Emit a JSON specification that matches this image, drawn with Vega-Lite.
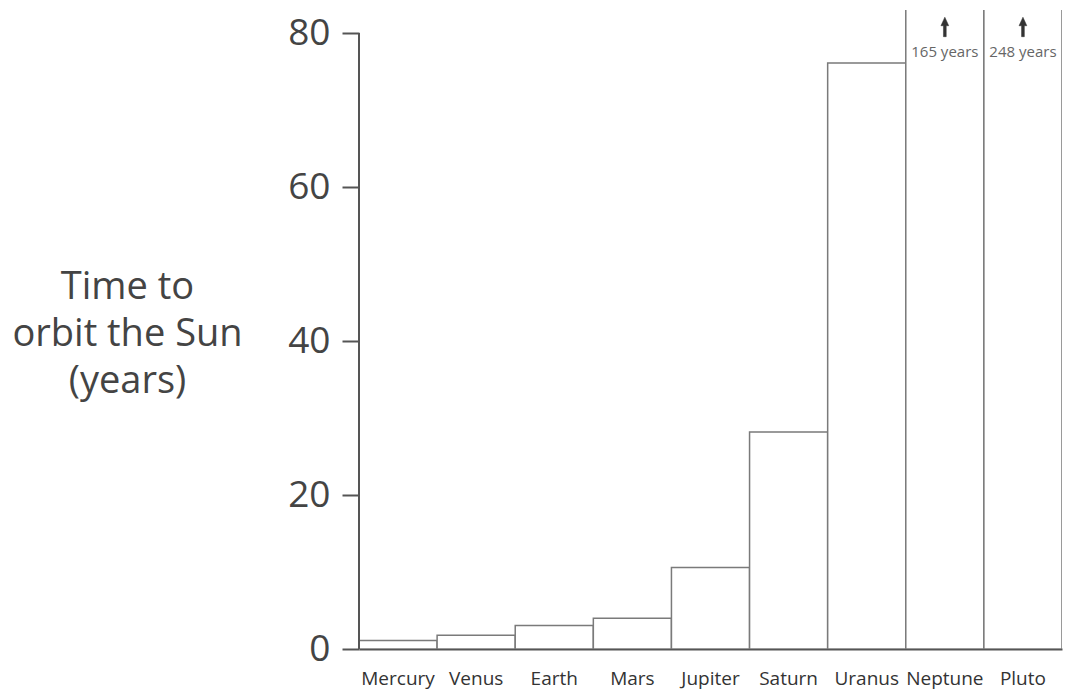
{
  "$schema": "https://vega.github.io/schema/vega-lite/v6.json",
  "autosize": {"type": "none"},
  "width": 703,
  "height": 639,
  "padding": {"left": 359, "top": 10, "right": 23, "bottom": 40},
  "background": "white",
  "config": {"view": {"stroke": null}, "font": "Open Sans"},
  "data": {
    "values": [
      {"planet": "Mercury", "years": 1.1},
      {"planet": "Venus", "years": 1.8},
      {"planet": "Earth", "years": 3.05},
      {"planet": "Mars", "years": 4.0},
      {"planet": "Jupiter", "years": 10.6},
      {"planet": "Saturn", "years": 28.2},
      {"planet": "Uranus", "years": 76.1},
      {"planet": "Neptune", "years": 165, "note": "165 years"},
      {"planet": "Pluto", "years": 248, "note": "248 years"}
    ]
  },
  "encoding": {
    "x": {
      "field": "planet",
      "type": "nominal",
      "sort": null,
      "scale": {"paddingInner": 0, "paddingOuter": 0},
      "axis": {
        "title": null,
        "ticks": false,
        "labelAngle": 0,
        "labelFontSize": 19,
        "labelColor": "#333",
        "labelPadding": 20,
        "domainColor": "#555",
        "domainWidth": 2
      }
    }
  },
  "layer": [
    {
      "mark": {"type": "bar", "fill": "white", "stroke": "#7a7a7a", "strokeWidth": 1.5, "clip": true},
      "encoding": {
        "y": {
          "field": "years",
          "type": "quantitative",
          "scale": {"domain": [0, 83], "nice": false},
          "axis": {
            "values": [0, 20, 40, 60, 80],
            "domain": false,
            "grid": false,
            "tickSize": 17,
            "tickColor": "#555",
            "tickWidth": 2,
            "labelFontSize": 37,
            "labelColor": "#444",
            "labelPadding": 12,
            "title": ["Time to", "orbit the Sun", "(years)"],
            "titleAngle": 0,
            "titleAlign": "center",
            "titleBaseline": "top",
            "titleX": -232,
            "titleY": 258,
            "titleFontSize": 38,
            "titleFontWeight": "normal",
            "titleColor": "#444",
            "titleLineHeight": 47
          }
        }
      }
    },
    {
      "mark": {"type": "rule", "stroke": "#555", "strokeWidth": 2},
      "encoding": {
        "x": {"datum": "Mercury", "bandPosition": 0},
        "y": {"datum": 0},
        "y2": {"datum": 80}
      }
    },
    {
      "transform": [{"filter": "datum.note"}],
      "mark": {"type": "text", "fontSize": 15, "fill": "#666", "baseline": "middle"},
      "encoding": {
        "y": {"datum": 77.5},
        "text": {"field": "note"}
      }
    },
    {
      "transform": [{"filter": "datum.note"}],
      "mark": {"type": "point", "shape": "arrow", "filled": true, "fill": "#333", "stroke": "#333", "strokeWidth": 0.5, "opacity": 1, "size": 380},
      "encoding": {
        "y": {"datum": 80.8}
      }
    }
  ]
}
